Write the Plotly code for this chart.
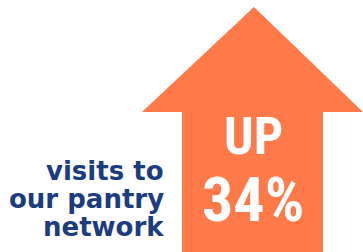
import plotly.graph_objects as go

change_label = "UP"
change_value = 34
caption_lines = ["visits to", "our pantry", "network"]

W, H = 363, 252
ORANGE = "#FF7A48"
BLUE = "#1B3C7E"

# arrow outline in pixel space (y measured downward)
arrow_x = [182, 182, 142, 254, 363, 323, 323, 182]
arrow_y_top = [252, 112, 112, 7, 112, 112, 252, 252]
arrow_y = [H - v for v in arrow_y_top]

fig = go.Figure()
fig.add_trace(go.Scatter(x=arrow_x, y=arrow_y, mode="lines", fill="toself",
                         fillcolor=ORANGE, line=dict(color=ORANGE, width=0),
                         hoverinfo="skip", showlegend=False))

narrow = "Roboto Condensed, DejaVu Sans Condensed, sans-serif"
fig.add_annotation(x=253, y=H - 136, text=f"<b>{change_label}</b>", showarrow=False,
                   font=dict(family=narrow, size=52, color="white"),
                   xanchor="center", yanchor="middle")
fig.add_annotation(x=253, y=H - 199, text=f"<b>{change_value}%</b>", showarrow=False,
                   font=dict(family=narrow, size=62, color="white"),
                   xanchor="center", yanchor="middle")

centers = [171, 199, 227]
for line, yc in zip(caption_lines, centers):
    fig.add_annotation(x=166, y=H - yc, text=f"<b>{line}</b>", showarrow=False,
                       font=dict(family="DejaVu Sans", size=26, color=BLUE),
                       xanchor="right", yanchor="middle")

fig.update_layout(width=W, height=H, margin=dict(l=0, r=0, t=0, b=0),
                  paper_bgcolor="white", plot_bgcolor="white",
                  xaxis=dict(range=[0, W], visible=False, fixedrange=True),
                  yaxis=dict(range=[0, H], visible=False, fixedrange=True),
                  showlegend=False)
fig.write_html("out.html", config={"displayModeBar": False},
               post_script="document.body.style.margin='0';document.body.style.overflow='hidden';")
